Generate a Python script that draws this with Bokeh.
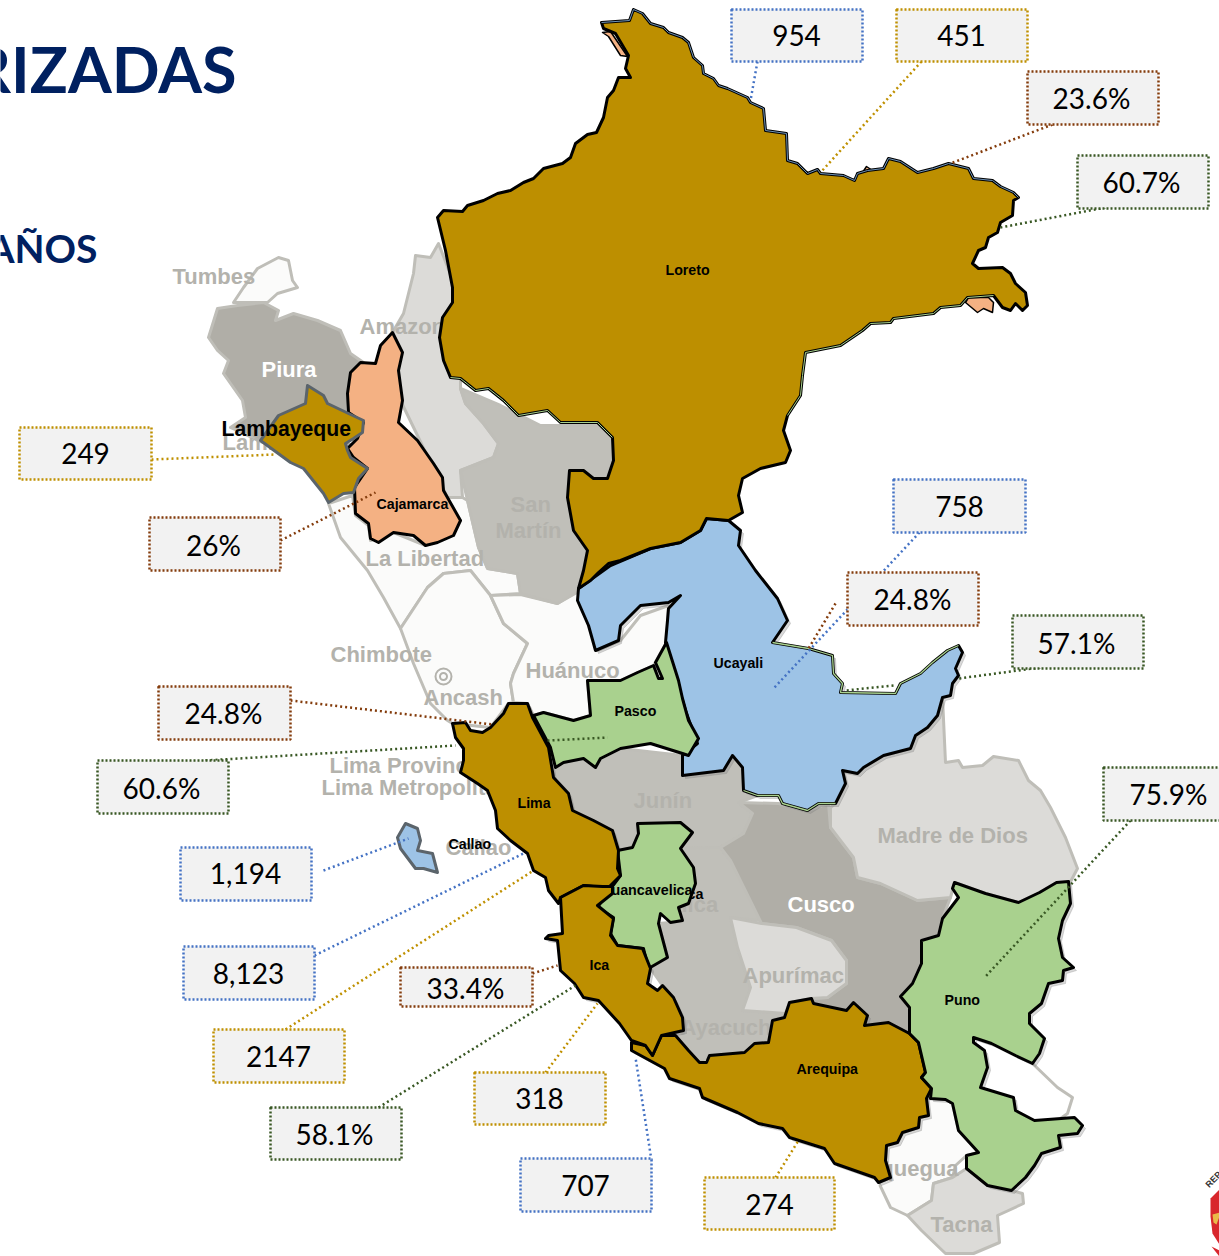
from bokeh.plotting import figure
from bokeh.models import Range1d
from bokeh.core.properties import value
from bokeh.embed import file_html
from bokeh.resources import INLINE

# ---------- map outlines (picture coordinates) ----------
TUMBES = [(233,302),(243,287),(257,268),(278,257),(288,260),(292,280),(297,287),(277,293),(267,302)]
PIURA = [(217,308),(237,305),(263,302),(278,310),(275,320),(293,313),(317,320),(340,330),(350,353),(363,362),(350,372),(347,412),(330,440),(262,442),(230,427),(245,417),(242,400),(223,373),(228,360),(217,350),(208,337)]
AMAZONAS = [(415,255),(430,257),(438,243),(460,300),(460,388),(465,403),(483,423),(498,443),(493,457),(460,470),(462,497),(447,497),(400,400),(392,332),(403,313),(413,273)]
SAN_MARTIN = [(460,388),(500,405),(540,425),(600,425),(613,440),(613,460),(605,478),(590,478),(570,470),(567,500),(575,530),(587,550),(583,570),(580,590),(557,603),(520,593),(517,573),(487,568),(478,547),(467,500),(460,470),(493,457),(498,443),(483,423),(465,403)]
LA_LIBERTAD = [(328,503),(352,495),(355,515),(368,525),(370,540),(393,532),(425,545),(460,520),(445,497),(462,497),(467,500),(478,547),(487,568),(517,573),(520,593),(490,595),(470,570),(443,573),(427,587),(400,628),(383,597),(367,570),(340,537)]
ANCASH = [(400,628),(427,587),(443,573),(470,570),(490,595),(503,623),(527,643),(513,673),(510,683),(513,702),(508,703),(490,727),(452,723),(447,720),(430,703),(413,663)]
HUANUCO = [(490,595),(520,594),(557,603),(578,590),(597,650),(620,640),(640,615),(668,605),(666,642),(653,665),(620,680),(587,680),(590,715),(573,720),(543,712),(533,715),(527,703),(513,702),(510,683),(513,673),(527,643),(503,623)]
JUNIN = [(553,777),(568,793),(572,810),(612,830),(618,850),(632,847),(637,823),(680,822),(692,832),(680,848),(720,847),(743,833),(752,813),(738,802),(757,795),(743,790),(742,767),(732,755),(723,770),(682,775),(682,755),(620,748),(600,758),(595,767),(583,758),(563,762),(555,767)]
AYACUCHO = [(680,848),(720,847),(730,860),(760,920),(730,917),(737,947),(750,987),(742,1010),(785,1013),(772,1020),(768,1042),(754,1043),(744,1052),(709,1055),(699,1062),(688,1050),(675,1035),(683,1030),(682,1017),(662,985),(650,968),(667,957),(658,923),(670,922),(682,920),(678,907),(688,903),(695,883),(693,867)]
CUSCO = [(738,802),(778,803),(807,810),(828,803),(830,827),(853,857),(857,877),(880,883),(917,900),(950,897),(942,918),(938,935),(921,940),(921,963),(912,983),(900,996),(909,1007),(909,1033),(888,1022),(864,1025),(867,1015),(853,1002),(846,1010),(813,1003),(811,998),(827,997),(846,983),(846,960),(831,940),(796,927),(761,923),(730,860),(720,847),(743,833),(752,813)]
APURIMAC = [(730,917),(761,923),(796,927),(831,940),(846,960),(846,983),(827,997),(811,998),(789,1002),(785,1013),(742,1010),(750,987),(737,947)]
MADRE_DE_DIOS = [(942,697),(945,762),(958,760),(962,767),(982,765),(993,756),(1018,760),(1028,780),(1040,790),(1050,807),(1065,837),(1077,868),(1068,885),(1039,892),(1018,902),(985,893),(954,882),(950,897),(917,900),(880,883),(857,877),(853,857),(830,827),(830,807),(835,803),(845,783),(842,770),(857,773),(863,767),(883,755),(910,748),(915,735),(927,727),(937,715)]
MOQUEGUA = [(890,1177),(878,1182),(881,1188),(890,1207),(907,1215),(931,1200),(933,1183),(952,1177),(955,1165),(966,1155),(978,1152),(958,1130),(952,1103),(945,1099),(930,1098),(926,1098),(928,1115),(919,1117),(918,1127),(902,1132),(897,1142),(886,1145),(885,1160)]
TACNA = [(907,1215),(931,1200),(933,1183),(952,1177),(966,1168),(987,1185),(1011,1190),(1022,1193),(1023,1203),(997,1215),(999,1242),(973,1253),(945,1253),(921,1230)]
LAKE_SHORE = [(1032,1063),(1057,1087),(1072,1097),(1067,1113),(1060,1118)]
COAST_MASK = [(838,1160),(880,1178),(876,1192),(838,1192)]

LORETO_N = [(601,22),(629,20),(633,9),(642,13),(650,23),(663,27),(668,32),(682,37),(688,42),(693,57),(702,65),(703,73),(713,78),(718,85),(727,88),(747,97),(750,102),(763,108),(765,130),(786,133),(787,160),(797,163),(807,173),(817,169),(820,173),(843,175),(854,180),(857,173),(867,170),(883,168),(888,158),(900,161),(917,172),(933,168),(948,163),(968,168),(973,178),(992,180),(1000,186),(1013,192),(1018,197)]
LORETO_E = [(1018,197),(1013,200),(1012,215),(1000,222),(997,232),(988,237),(985,247),(978,250),(972,263),(978,268),(1002,267),(1010,273),(1015,283),(1025,292),(1027,305),(1022,310),(1015,303),(1010,310),(1002,307),(993,295)]
LORETO_S = [(993,295),(967,297),(960,305),(940,307),(933,313),(893,318),(890,322),(870,323),(862,330),(840,345),(805,352),(802,375),(800,395),(787,415),(783,430),(790,450),(785,462),(760,468),(742,478),(738,495),(742,512),(728,520),(706,518),(700,530),(680,542),(650,548),(620,560),(608,563),(598,572),(590,580),(578,588)]
LORETO_SW = [(578,588),(583,570),(587,550),(573,530),(567,497),(569,470),(583,470),(593,478),(607,478),(613,460),(612,437),(597,422),(560,422),(547,410),(518,415),(503,400),(488,388),(475,390),(460,378),(450,377)]
LORETO_W = [(450,377),(443,360),(439,337),(442,317),(452,302),(452,287),(445,250),(437,217),(443,210),(462,211),(467,205),(483,200),(497,193),(510,190),(523,182),(533,178),(543,168),(562,163),(570,157),(575,143),(587,134),(596,132),(603,117),(607,97),(613,90),(618,77),(630,77),(625,68),(628,55),(615,33),(603,28),(601,22)]
LORETO = LORETO_N + LORETO_E + LORETO_S + LORETO_SW + LORETO_W

UCAYALI_N = [(772,642),(808,648),(832,655),(833,673),(842,683),(840,692),(895,693),(900,683),(920,673),(932,662),(947,650),(958,645)]
UCAYALI_S = [(743,790),(757,795),(778,795),(782,803),(807,810),(818,803),(835,803)]
UCAYALI = [(578,588),(610,565),(650,548),(680,542),(700,530),(706,518),(728,520),(740,530),(738,545),(755,570),(777,598),(787,620),(772,642)] + UCAYALI_N[1:] + [(962,652),(955,668),(958,675),(952,683),(950,695),(942,697),(937,715),(927,727),(915,735),(910,748),(883,755),(863,767),(857,773),(842,770),(845,783),(835,803),(818,803),(807,810),(782,803),(778,795),(757,795),(743,790),(742,767),(732,755),(723,770),(682,775),(682,755),(697,743),(685,710),(677,683),(665,642),(667,620),(668,608),(680,595),(668,602),(640,605),(620,625),(618,640),(595,650),(588,625),(577,600)]
PASCO = [(666,642),(678,680),(682,698),(688,720),(698,738),(688,755),(682,753),(650,743),(620,748),(600,758),(595,767),(583,758),(563,762),(555,767),(550,747),(533,715),(543,712),(573,720),(590,715),(587,680),(620,680),(637,672),(653,665),(658,678),(662,678),(655,662)]
LIMA = [(452,723),(465,722),(470,730),(482,732),(490,727),(503,713),(508,703),(527,703),(532,717),(548,747),(553,777),(568,793),(572,810),(593,820),(612,830),(618,850),(617,868),(620,875),(605,890),(602,887),(583,885),(560,897),(558,903),(548,890),(545,877),(533,870),(527,853),(510,840),(497,828),(495,810),(487,790),(477,783),(460,772),(463,760),(463,748),(455,737)]
HUANCAVELICA = [(637,823),(680,822),(692,832),(680,848),(693,867),(695,883),(688,903),(678,907),(682,920),(670,922),(660,913),(658,923),(667,957),(648,968),(643,948),(617,945),(610,933),(613,917),(597,907),(605,895),(620,875),(617,850),(632,847),(638,833)]
ICA = [(560,897),(583,885),(602,886),(612,886),(612,893),(597,905),(613,918),(610,935),(617,945),(642,948),(650,968),(647,983),(657,990),(662,985),(673,997),(682,1017),(683,1030),(661,1035),(652,1055),(645,1045),(631,1040),(619,1023),(598,1000),(583,997),(574,983),(560,970),(557,940),(545,938),(548,935),(562,933)]
AREQUIPA = [(631,1042),(631,1050),(664,1068),(669,1078),(699,1088),(702,1097),(737,1112),(758,1123),(782,1128),(789,1137),(824,1148),(834,1163),(874,1177),(878,1182),(890,1177),(885,1160),(886,1145),(897,1142),(902,1132),(918,1127),(919,1117),(928,1115),(926,1098),(931,1088),(921,1077),(925,1072),(918,1042),(909,1033),(888,1022),(864,1025),(867,1015),(853,1002),(846,1010),(813,1003),(811,998),(789,1002),(784,1017),(772,1020),(768,1042),(754,1043),(744,1052),(709,1055),(706,1062),(699,1062),(688,1050),(675,1035),(661,1035),(652,1055),(645,1045)]
PUNO = [(954,882),(985,893),(1018,902),(1039,892),(1056,882),(1068,881),(1070,903),(1062,920),(1058,938),(1062,957),(1073,967),(1063,970),(1062,980),(1048,983),(1041,1003),(1029,1013),(1029,1023),(1044,1038),(1039,1053),(1032,1063),(1015,1055),(991,1043),(973,1037),(973,1042),(984,1050),(987,1067),(980,1087),(1013,1097),(1015,1110),(1034,1120),(1074,1117),(1082,1125),(1077,1133),(1058,1135),(1060,1147),(1041,1153),(1034,1165),(1025,1177),(1011,1190),(987,1185),(966,1168),(966,1155),(978,1152),(958,1130),(952,1103),(945,1099),(930,1098),(931,1088),(921,1077),(925,1072),(918,1042),(909,1033),(909,1007),(900,996),(912,983),(921,963),(921,940),(938,935),(942,918),(958,897),(952,888)]
CAJAMARCA = [(392,332),(402,352),(398,370),(402,400),(398,422),(417,440),(433,463),(442,477),(443,490),(460,520),(453,535),(437,542),(425,545),(413,535),(393,532),(378,542),(370,538),(368,523),(355,513),(354,487),(367,468),(353,457),(347,448),(357,438),(363,422),(348,412),(347,393),(350,372),(360,362),(375,363),(380,345)]
LAMBAYEQUE = [(307,385),(323,395),(327,403),(348,413),(363,420),(362,432),(353,438),(345,443),(347,450),(350,457),(367,468),(358,478),(353,492),(343,493),(328,502),(323,493),(303,468),(290,462),(260,440),(278,415),(305,403)]
CALLAO = [(405,823),(417,828),(420,840),(417,850),(432,853),(437,872),(423,868),(415,868),(400,848),(397,837)]
PEACH_NORTH = [(602,32),(610,31),(627,56),(620,55),(608,36)]
PEACH_EAST = [(965,302),(977,312),(983,308),(992,312),(993,302),(988,297),(968,297)]
PEACH_TOP = [(862,172),(866,166),(872,170)]
SHIELD_RED = [(1210,1198),(1219,1189),(1219,1244),(1212,1233),(1210,1216)]
SHIELD_LOW = [(1211,1246),(1219,1256),(1219,1250)]
SHIELD_ARC = [(1212,1214),(1219,1212),(1219,1216),(1216,1224),(1219,1226),(1213,1222)]

# ---------- callouts ----------
CALL_TEXT = ["954","451","23.6%","60.7%","758","24.8%","57.1%","24.8%","60.6%","249","26%","1,194","8,123","33.4%","2147","318","58.1%","707","274","75.9%"]
CALL_KIND = ["b","g","r","v","b","r","v","r","v","g","r","b","b","r","g","g","v","b","g","v"]
BOX_L = [731,896,1027,1077,893,847,1012,158,97,19,149,180,183,400,213,474,270,520,704,1103]
BOX_R = [862,1027,1158,1208,1025,978,1143,290,228,151,280,311,314,532,344,605,401,651,834,1225]
BOX_T = [9,9,71,155,479,572,615,686,760,427,517,847,946,967,1029,1072,1107,1158,1177,767]
BOX_B = [61,61,124,208,532,625,668,739,813,479,570,900,999,1006,1082,1124,1159,1211,1229,820]
TXT_X = [796,961,1091,1141,959,912,1076,223,161,85,213,245,248,465,278,539,334,585,769,1168]
TXT_Y = [35,35,97,181,506,598,642,712,787,453,544,873,973,987,1056,1098,1133,1185,1204,793]
LEAD_X = [[757,750],[921,820],[1052,950],[1105,1000],[919,773],[835,808],[1040,958],[290,492],[205,455],[151,275],[280,375],[323,408],[314,525],[532,557],[285,533],[545,597],[378,575],[651,635],[775,798],[1130,985]]
LEAD_Y = [[61,100],[61,172],[124,163],[207,227],[532,688],[603,648],[667,678],[700,724],[760,745],[459,454],[540,492],[870,838],[955,852],[973,965],[1029,870],[1072,1003],[1107,985],[1160,1057],[1177,1140],[820,976]]
EXTRA_X = [[893,845],[547,607]]
EXTRA_Y = [[685,690],[740,737]]
EXTRA_KIND = ["v","v"]
KIND_COLOR = {"b":"#4472C4","g":"#BF9000","r":"#843C0C","v":"#385723"}

# ---------- region labels ----------
GREY_LABELS = ["Tumbes","Amazonas","San","Martín","La Libertad","Chimbote","Ancash","Huánuco","Lima Provincias","Lima Metropolitana","Junín","Madre de Dios","Callao","Apurímac","Ayacucho","Moquegua","Tacna","Lambayeque","Huancavelica"]
GREY_X = [172,359,510,495,365,330,423,525,329,321,633,877,445,742,680,848,930,222,577]
GREY_Y = [276,326,504,530,558,654,697,670,765,787,800,835,847,975,1027,1168,1224,442,904]
WHITE_LABELS = ["Piura","Cusco"]
WHITE_X = [261,787]
WHITE_Y = [369,904]
BLACK_LABELS = ["Loreto","Ucayali","Pasco","Lima","Callao","Ica","Arequipa","Puno","Cajamarca"]
BLACK_X = [665,713,614,517,448,589,796,944,376]
BLACK_Y = [269,662,710,802,843,964,1068,999,503]

GOLD, BLUE, GREEN, PEACH = "#BD8F00", "#9DC3E6", "#A9D18E", "#F4B183"
DARK, MID, LIGHT, PALE = "#B0AEA7", "#C0BFB9", "#DCDBD8", "#FBFBFA"

p = figure(width=1219, height=1256, x_range=Range1d(0, 1219), y_range=Range1d(1256, 0),
           toolbar_location=None, output_backend="svg", min_border=0, outline_line_color=None,
           background_fill_color="white")
p.axis.visible = False
p.grid.visible = False


def poly(pts, fill, line="black", w=3, alpha=1.0):
    p.patch([a for a, _ in pts], [b for _, b in pts], fill_color=fill, fill_alpha=alpha,
            line_color=line, line_width=w, line_alpha=alpha if line else 1, line_join="round")


def path(pts, color, w):
    p.line([a for a, _ in pts], [b for _, b in pts], line_color=color, line_width=w, line_join="round")


def label(xs, ys, txt, size, color, align="left", font="Liberation Sans", style="bold", base="middle", angle=0):
    p.text(xs, ys, text=txt, text_font=value(font), text_font_style=style, text_font_size=f"{size}px",
           text_color=color, text_align=align, text_baseline=base, angle=angle)


GREY_EDGE = "#BFBEB8"
for pts, col in [(TUMBES, PALE), (PIURA, DARK), (AMAZONAS, LIGHT), (LA_LIBERTAD, PALE), (ANCASH, PALE),
                 (HUANUCO, PALE), (SAN_MARTIN, MID), (JUNIN, MID), (AYACUCHO, MID), (CUSCO, DARK),
                 (MADRE_DE_DIOS, LIGHT), (APURIMAC, LIGHT), (MOQUEGUA, PALE), (TACNA, LIGHT)]:
    poly(pts, col, GREY_EDGE, 3)
path(LAKE_SHORE, GREY_EDGE, 3)

label(GREY_X, GREY_Y, GREY_LABELS, 22, "#B3B2AC")
label(WHITE_X, WHITE_Y, WHITE_LABELS, 22, "#FFFFFF")
p.circle([443], [676], radius=8, fill_color=None, line_color="#B3B2AC", line_width=2)
p.circle([443], [676], radius=3.5, fill_color=None, line_color="#B3B2AC", line_width=2)
poly(COAST_MASK, "white", None, 0)

# soft shadows
for pts in [PUNO, AREQUIPA, ICA, LIMA, UCAYALI]:
    poly([(a + 3, b + 3) for a, b in pts], "#808080", "#808080", 1, 0.3)

for pts in [PEACH_NORTH, PEACH_EAST, PEACH_TOP]:
    poly(pts, PEACH, "black", 1.5)
poly(UCAYALI, BLUE)
poly(LORETO, GOLD)
for seg in [LORETO_S[:14], LORETO_SW[10:]]:
    path(seg, GREEN, 1)
path(LORETO_N, "#6E93B8", 1)
for seg in [UCAYALI_N, UCAYALI_S]:
    path(seg, GREEN, 1.3)
poly(PASCO, GREEN)
label([703], [893], ["Huancavelica"], 14.3, "black", "right")
poly(HUANCAVELICA, GREEN)
label([692], [889], ["Huancavelica"], 14.3, "black", "right")
poly(LIMA, GOLD)
poly(AREQUIPA, GOLD)
poly(ICA, GOLD)
poly(PUNO, GREEN)
poly(CAJAMARCA, PEACH)
poly(LAMBAYEQUE, GOLD, "#5B646B")
poly(CALLAO, BLUE, "#5B646B")

# title fragments
label([236], [68], ["RIZADAS"], 63, "#002060", "right", "Lato")
label([97], [247], ["AÑOS"], 39, "#002060", "right", "Lato")

# leaders
for xs, ys, k in zip(LEAD_X, LEAD_Y, CALL_KIND):
    p.line(xs, ys, line_color=KIND_COLOR[k], line_width=2.5, line_dash="2 3")
for xs, ys, k in zip(EXTRA_X, EXTRA_Y, EXTRA_KIND):
    p.line(xs, ys, line_color=KIND_COLOR[k], line_width=2.5, line_dash="2 3")

# boxes
p.quad(left=BOX_L, right=BOX_R, top=BOX_T, bottom=BOX_B, fill_color="#F2F2F2",
       line_color=[KIND_COLOR[k] for k in CALL_KIND], line_width=2.5, line_dash="2 2")
label(TXT_X, TXT_Y, CALL_TEXT, 28, "black", "center", "Lato", "normal")

# black labels
label(BLACK_X, BLACK_Y, BLACK_LABELS, 14.2, "black")
label([221], [428], ["Lambayeque"], 21.2, "black")

# shield
poly(SHIELD_RED, "#D8262C", None, 0)
poly(SHIELD_LOW, "#D8262C", None, 0)
poly(SHIELD_ARC, "#E9B949", None, 0)
label([1213], [1179], ["REP"], 9, "#333333", "center", angle=0.8)

open("out.html", "w").write(file_html(p, INLINE))
